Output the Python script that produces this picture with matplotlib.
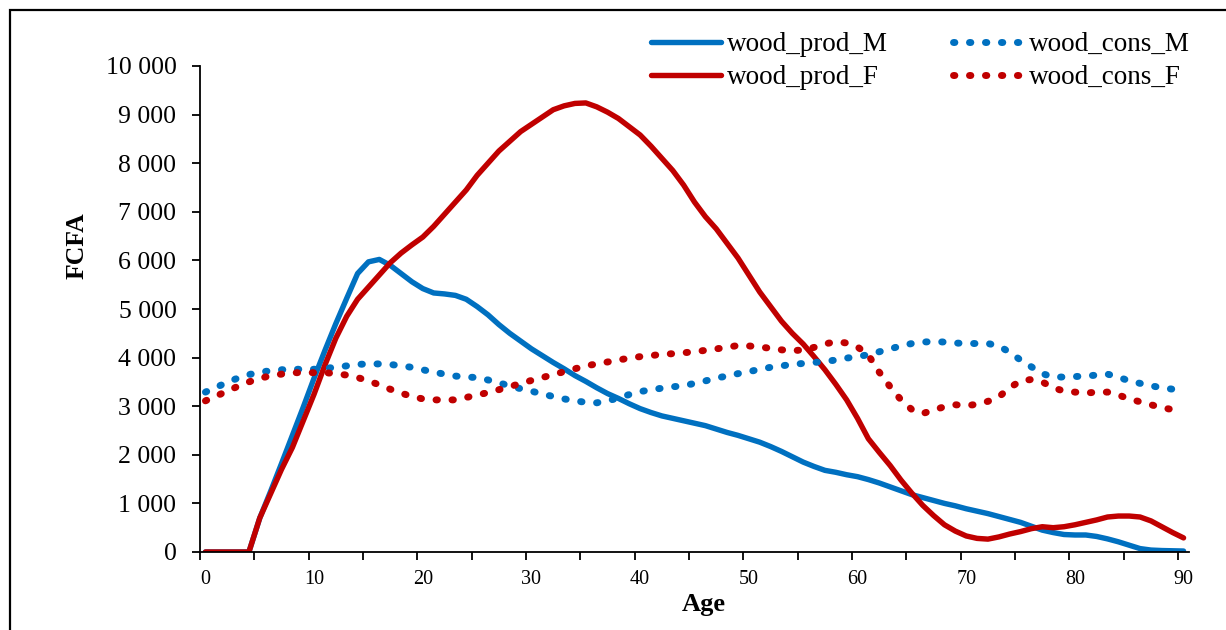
import matplotlib
matplotlib.use("Agg")
import matplotlib.pyplot as plt
from matplotlib.patches import Rectangle
from matplotlib.ticker import FuncFormatter

plt.rcParams['font.family'] = ['Liberation Serif', 'DejaVu Serif']

# Données (âge 0..90)
ages = list(range(0, 91))

wood_prod_M = [0, 0, 0, 0, 0, 700, 1250, 1820, 2400, 2980,
               3580, 4150, 4700, 5220, 5730, 5970, 6020, 5900, 5730, 5560,
               5420, 5330, 5310, 5280, 5200, 5050, 4880, 4680, 4500, 4340,
               4180, 4040, 3900, 3770, 3630, 3510, 3380, 3260, 3160, 3050,
               2950, 2870, 2800, 2750, 2700, 2650, 2600, 2530, 2460, 2400,
               2330, 2260, 2170, 2070, 1960, 1850, 1760, 1680, 1640, 1590,
               1550, 1490, 1420, 1340, 1260, 1180, 1120, 1060, 1000, 950,
               890, 840, 790, 730, 670, 610, 530, 450, 400, 360,
               350, 350, 320, 270, 210, 140, 70, 40, 30, 25, 20]

wood_prod_F = [0, 0, 0, 0, 0, 700, 1200, 1700, 2150, 2700,
               3250, 3850, 4400, 4850, 5200, 5450, 5700, 5950, 6150, 6320,
               6480, 6700, 6950, 7200, 7450, 7750, 8000, 8250, 8450, 8650,
               8800, 8950, 9100, 9180, 9230, 9240, 9160, 9050, 8920, 8750,
               8580, 8350, 8100, 7850, 7550, 7200, 6900, 6650, 6350, 6050,
               5700, 5350, 5050, 4750, 4500, 4280, 4020, 3750, 3450, 3130,
               2750, 2330, 2050, 1780, 1480, 1210, 960, 750, 560, 430,
               330, 280, 265, 310, 370, 420, 480, 520, 500, 520,
               560, 610, 660, 720, 740, 740, 720, 640, 520, 400, 290]

wood_cons_M = [3290, 3390, 3490, 3580, 3650, 3700, 3730, 3750, 3760, 3760,
               3760, 3780, 3800, 3830, 3860, 3870, 3870, 3860, 3830, 3800,
               3750, 3700, 3660, 3620, 3600, 3590, 3540, 3480, 3420, 3360,
               3310, 3250, 3200, 3150, 3110, 3080, 3070, 3110, 3170, 3240,
               3300, 3340, 3370, 3400, 3420, 3470, 3520, 3580, 3620, 3670,
               3710, 3760, 3800, 3830, 3860, 3880, 3900, 3920, 3950, 3990,
               4020, 4060, 4120, 4180, 4240, 4290, 4320, 4330, 4320, 4300,
               4290, 4290, 4290, 4240, 4110, 3950, 3810, 3670, 3600, 3600,
               3610, 3620, 3640, 3660, 3600, 3520, 3470, 3420, 3380, 3350, 3340]

wood_cons_F = [3110, 3210, 3310, 3410, 3500, 3570, 3630, 3660, 3690, 3690,
               3690, 3690, 3670, 3640, 3590, 3520, 3440, 3350, 3270, 3200,
               3150, 3130, 3130, 3130, 3180, 3230, 3280, 3340, 3400, 3470,
               3530, 3590, 3650, 3710, 3770, 3830, 3870, 3910, 3950, 3990,
               4020, 4040, 4070, 4080, 4100, 4120, 4150, 4180, 4210, 4250,
               4240, 4220, 4190, 4160, 4140, 4160, 4210, 4280, 4330, 4300,
               4220, 4050, 3700, 3400, 3130, 2930, 2850, 2920, 2990, 3030,
               3010, 3040, 3100, 3190, 3380, 3520, 3550, 3500, 3380, 3310,
               3290, 3270, 3290, 3290, 3230, 3150, 3090, 3030, 2970, 2930, 2920]

blue = '#0070C0'
red = '#C00000'

fig = plt.figure(figsize=(12.26, 6.30), dpi=100)
ax = fig.add_axes([200/1226, 78/630, 989/1226, 486/630])

lw = 3.9
lw_dot = 5.0
dots = (0, (0.2, 2.1))
ax.plot(ages, wood_prod_M, color=blue, lw=lw, solid_capstyle='round', label='wood_prod_M')
ax.plot(ages, wood_prod_F, color=red, lw=lw, solid_capstyle='round', label='wood_prod_F')
ax.plot(ages, wood_cons_M, color=blue, lw=lw_dot, ls=dots, dash_capstyle='round', label='wood_cons_M')
ax.plot(ages, wood_cons_F, color=red, lw=lw_dot, ls=dots, dash_capstyle='round', label='wood_cons_F')

ax.set_xlim(-0.5, 90.5)
ax.set_ylim(0, 10000)

# axe des catégories : graduations entre les catégories, étiquettes tous les 10
ax.set_xticks(range(0, 91, 10))
ax.set_xticks([k - 0.5 for k in range(0, 91, 5)], minor=True)
ax.tick_params(axis='x', which='major', length=0, pad=13, labelsize=14.5)
ax.tick_params(axis='x', which='minor', length=6, width=1.3, direction='out')
ax.set_yticks(range(0, 10001, 1000))
ax.yaxis.set_major_formatter(FuncFormatter(lambda v, p: f"{int(v):,}".replace(',', ' ')))
ax.tick_params(axis='y', length=6, width=1.3, direction='out', pad=11, labelsize=18.5)

for s in ['top', 'right']:
    ax.spines[s].set_visible(False)
for s in ['left', 'bottom']:
    ax.spines[s].set_linewidth(1.3)

fig.text(704/1226, 1 - 604/630, 'Age', fontsize=19, fontweight='bold', ha='center', va='center')
fig.text(77/1226, 1 - 246/630, 'FCFA', fontsize=18.5, fontweight='bold', rotation=90,
         ha='center', va='center')

ax.legend(ncol=2, loc='upper left', bbox_to_anchor=(651/1226, 1 - 32/630),
          bbox_transform=fig.transFigure, frameon=False, fontsize=19.5,
          handlelength=2.6, handletextpad=0.2, columnspacing=2.4,
          labelspacing=0.3, borderpad=0, borderaxespad=0)

# cadre extérieur
fig.patches.append(Rectangle((10/1226, -0.1), 1.2, 1.1 - 10/630,
                             transform=fig.transFigure, fill=False,
                             edgecolor='black', linewidth=1.6, clip_on=False))

fig.savefig('out.png', dpi=100)
